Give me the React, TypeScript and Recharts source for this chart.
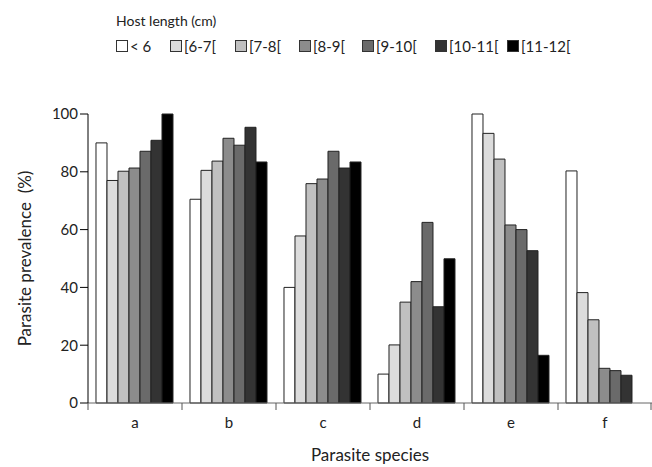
import React from 'react';
import { BarChart, Bar, XAxis, YAxis } from 'recharts';

const species = ['a', 'b', 'c', 'd', 'e', 'f'];
const sizeClasses = ['< 6', '[6-7[', '[7-8[', '[8-9[', '[9-10[', '[10-11[', '[11-12['];
const lt6 = [90, 70.5, 40, 10, 100, 80.3];
const s6to7 = [77, 80.5, 57.8, 20.1, 93.3, 38.2];
const s7to8 = [80.2, 83.7, 75.9, 34.9, 84.4, 28.8];
const s8to9 = [81.3, 91.6, 77.5, 42, 61.6, 12];
const s9to10 = [87.1, 89.2, 87.1, 62.5, 60, 11.2];
const s10to11 = [90.9, 95.4, 81.3, 33.3, 52.7, 9.6];
const s11to12 = [100, 83.4, 83.4, 49.9, 16.5, 0];
const yTicks = [0, 20, 40, 60, 80, 100];

const SERIES = [lt6, s6to7, s7to8, s8to9, s9to10, s10to11, s11to12];
const FILLS = ['#ffffff', '#dcdcdc', '#c0c0c0', '#8c8c8c', '#6a6a6a', '#333333', '#000000'];
const FONT = 'Lato, "Open Sans", sans-serif';
// left edge of each legend swatch
const LEGEND_X = [116, 170, 235, 299, 362, 435, 507];

const W = 652;
const H = 467;
const LEFT = 88;
const BAND = (W - LEFT) / species.length;

const data = species.map((s, i) => {
  const row: Record<string, string | number> = { species: s };
  SERIES.forEach((vals, k) => {
    row[`s${k}`] = vals[i];
  });
  return row;
});

const SpeciesTick = (props: any) => {
  const { x, y, payload, index } = props;
  const last = index === species.length - 1;
  return (
    <g>
      <line x1={x - BAND / 2} x2={x - BAND / 2} y1={y} y2={y + 7} stroke="#555" />
      {last && <line x1={x + BAND / 2 - 1} x2={x + BAND / 2 - 1} y1={y} y2={y + 7} stroke="#555" />}
      <text x={x} y={y + 25} textAnchor="middle" fontSize={15} fill="#222" fontFamily={FONT}>
        {payload.value}
      </text>
    </g>
  );
};

const HostLegend = () => (
  <div style={{ position: 'absolute', left: 0, top: 0, width: W, height: 60, fontFamily: FONT, color: '#222' }}>
    <div style={{ position: 'absolute', left: 116, top: 12, fontSize: 14 }}>Host length (cm)</div>
    {sizeClasses.map((c, k) => (
      <div
        key={c}
        style={{ position: 'absolute', left: LEGEND_X[k], top: 37, display: 'flex', alignItems: 'center', fontSize: 15 }}
      >
        <span
          style={{
            display: 'inline-block',
            width: 10,
            height: 10,
            background: FILLS[k],
            border: '1px solid #333',
            marginRight: 2,
          }}
        />
        {c}
      </div>
    ))}
  </div>
);

export default function App() {
  return (
    <div style={{ position: 'absolute', left: 0, top: 0, width: W, height: H, background: '#fff' }}>
      <HostLegend />
      <BarChart
        width={W}
        height={H}
        data={data}
        margin={{ top: 114, right: 0, left: 0, bottom: 0 }}
        barCategoryGap="8.5%"
        barGap={0}
      >
        <XAxis
          dataKey="species"
          height={64}
          stroke="#666"
          tickLine={false}
          tickSize={0}
          tickMargin={0}
          tick={<SpeciesTick />}
          label={{ value: 'Parasite species', position: 'insideBottom', offset: 6, fontSize: 17, fill: '#222', fontFamily: FONT }}
        />
        <YAxis
          width={LEFT}
          domain={[0, 100]}
          ticks={yTicks}
          stroke="#000"
          tickSize={8}
          tickMargin={2}
          tick={{ fontSize: 15, fill: '#222', fontFamily: FONT }}
          label={{
            value: 'Parasite prevalence\u00a0\u00a0(%)',
            angle: -90,
            position: 'insideLeft',
            offset: 25,
            style: { textAnchor: 'middle', fontSize: 17, fill: '#222', fontFamily: FONT },
          }}
        />
        {SERIES.map((_, k) => (
          <Bar
            key={k}
            dataKey={`s${k}`}
            name={sizeClasses[k]}
            fill={FILLS[k]}
            stroke="#222"
            strokeWidth={1}
            isAnimationActive={false}
          />
        ))}
      </BarChart>
    </div>
  );
}
